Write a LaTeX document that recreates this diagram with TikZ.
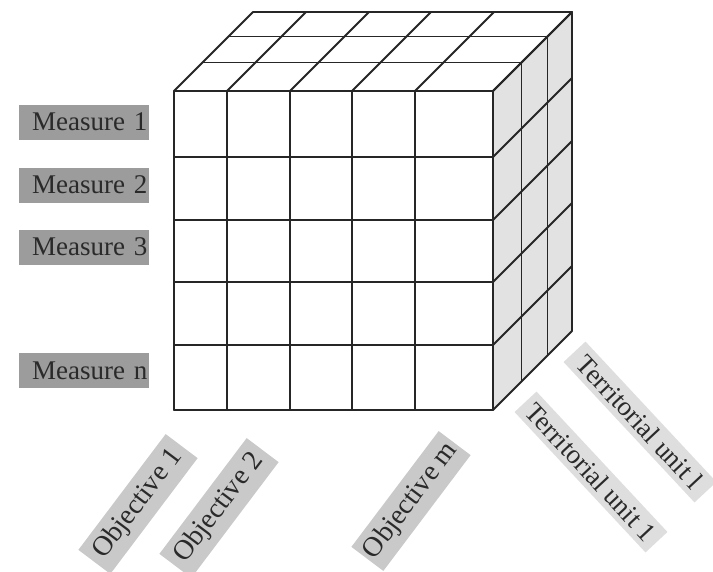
\documentclass[tikz,border=0pt]{standalone}
\usepackage{fontspec}
\setmainfont{Liberation Serif}
\definecolor{measurefill}{HTML}{9C9C9C}
\definecolor{objfill}{HTML}{C9C9C9}
\definecolor{terrfill}{HTML}{DEDEDE}
\definecolor{sidefill}{HTML}{E2E2E2}
\definecolor{labeltext}{HTML}{2A2A2A}
\begin{document}
\begin{tikzpicture}[x=1pt,y=-1pt,
  grid/.style={draw=black!85, line width=1.8pt, line cap=round, line join=round},
  measure/.style={fill=measurefill, text=labeltext, text width=127pt, align=right,
    minimum height=35pt, inner sep=1.5pt, font=\fontsize{27}{29}\selectfont},
  objective/.style={fill=objfill, text=labeltext, minimum width=145pt, minimum height=40pt,
    inner sep=1pt, rotate=53, font=\fontsize{28}{30}\selectfont},
  territory/.style={fill=terrfill, text=labeltext, minimum width=192pt, minimum height=30pt,
    inner sep=1pt, rotate=-47, font=\fontsize{27}{29}\selectfont}
]
\useasboundingbox (0,0) rectangle (713,571);

% shaded right-hand face of the cube
\fill[sidefill] (493,91) -- (572,12) -- (572,331) -- (493,410) -- cycle;

% front face grid
\foreach \x in {174,227,290,352,415,493} \draw[grid] (\x,91) -- (\x,410);
\foreach \y in {91,157,220,282,345,410} \draw[grid] (174,\y) -- (493,\y);

% top face
\foreach \x in {174,227,290,352,415,493} \draw[grid] (\x,91) -- ++(79,-79);
\foreach \d in {28.5,54.5,79} \draw[grid] (174+\d,91-\d) -- (493+\d,91-\d);

% right face
\foreach \y in {91,157,220,282,345,410} \draw[grid] (493,\y) -- ++(79,-79);
\foreach \d in {28.5,54.5,79} \draw[grid] (493+\d,91-\d) -- (493+\d,410-\d);

% measures along the rows
\node[measure] (m1) at (84,122) {Measure 1};
\node[measure] (m2) at (84,185) {Measure 2};
\node[measure] (m3) at (84,247) {Measure 3};
\node[measure] (mn) at (84,370.5) {Measure n};

% objectives along the columns
\node[objective] (o1) at (138,504) {Objective 1};
\node[objective] (o2) at (219,508) {Objective 2};
\node[objective] (om) at (411,501) {Objective m};

% territorial units along the depth
\node[territory] (tl) at (640,422) {Territorial unit l};
\node[territory] (t1) at (591,472) {Territorial unit 1};
\end{tikzpicture}
\end{document}
